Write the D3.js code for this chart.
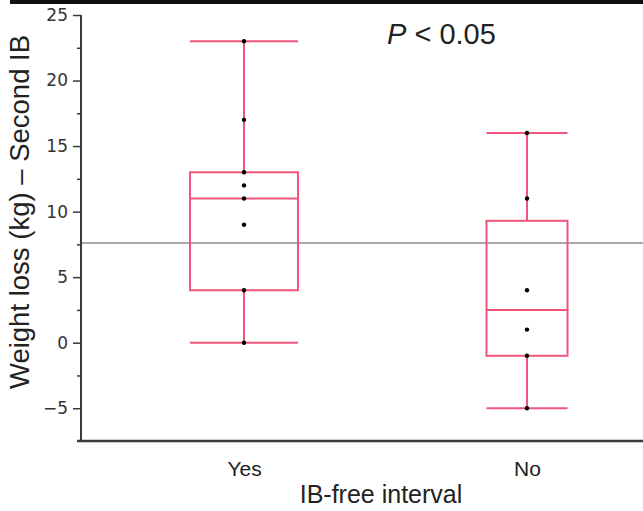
<!DOCTYPE html>
<html><head><meta charset="utf-8">
<script src="https://cdn.jsdelivr.net/npm/d3@7"></script>
<style>
html,body{margin:0;padding:0;background:#fff;}
svg{display:block;}
</style>
</head><body>
<svg id="chart" width="643" height="511"></svg>
<script>
// ---- data ----
const categories = ["Yes", "No"];
const yesPoints = [23, 17, 13, 12, 11, 9, 4, 0];
const noPoints = [16, 11, 4, 1, -1, -5];
const boxMin = [0, -5];
const boxQ1 = [4, -1];
const boxMedian = [11, 2.5];
const boxQ3 = [13, 9.3];
const boxMax = [23, 16];
const refLine = 7.6;
const yMajorTicks = [25, 20, 15, 10, 5, 0, -5];
const yMinorTicks = [22.5, 17.5, 12.5, 7.5, 2.5, -2.5];
const yTitle = "Weight loss (kg) \u2013 Second IB";
const xTitle = "IB-free interval";
const pLabel = ["P", " < 0.05"];

const points = [yesPoints, noPoints];

const svg = d3.select("#chart");
const pink = "#f2557c";
const axisCol = "#3a3a3a";

const y = d3.scaleLinear().domain([-7.5, 25]).range([441, 15]);
const x = d3.scalePoint().domain(categories).range([244, 527]);
const perPointWidth = 13.5;

// top black rule
svg.append("rect").attr("x", 10).attr("y", 0).attr("width", 633).attr("height", 4).attr("fill", "#111");

// reference line
svg.append("line")
  .attr("x1", 81).attr("x2", 643)
  .attr("y1", y(refLine)).attr("y2", y(refLine))
  .attr("stroke", "#a8a8a8").attr("stroke-width", 2);

// y axis (major)
const gy = svg.append("g").attr("transform", "translate(81,0)")
  .call(d3.axisLeft(y).tickValues(yMajorTicks).tickSize(8).tickPadding(5).tickFormat(d3.format("d")));
gy.select(".domain").remove();
gy.selectAll(".tick line").attr("stroke", axisCol).attr("stroke-width", 1.5);
gy.selectAll(".tick text").attr("font-family", "DejaVu Sans").attr("font-size", 17).attr("fill", "#333");

// minor ticks
const gm = svg.append("g").attr("transform", "translate(81,0)")
  .call(d3.axisLeft(y).tickValues(yMinorTicks).tickSize(4).tickFormat(""));
gm.select(".domain").remove();
gm.selectAll(".tick line").attr("stroke", axisCol).attr("stroke-width", 1.5);

// axis lines
svg.append("line").attr("x1", 81).attr("x2", 81).attr("y1", y(25)).attr("y2", y(-7.5))
  .attr("stroke", axisCol).attr("stroke-width", 2);

// x axis
const gx = svg.append("g").attr("transform", "translate(0,441)")
  .call(d3.axisBottom(x).tickSize(0).tickPadding(20));
gx.select(".domain").remove();
gx.selectAll(".tick text").attr("font-family", "Liberation Sans, Arial, sans-serif").attr("font-size", 21).attr("fill", "#222");
svg.append("line").attr("x1", 77).attr("x2", 643).attr("y1", 441).attr("y2", 441)
  .attr("stroke", axisCol).attr("stroke-width", 2.5);

// boxes
const g = svg.append("g");
categories.forEach((c, i) => {
  const cx = x(c);
  const w = points[i].length * perPointWidth;
  const col = g.append("g").attr("stroke", pink).attr("stroke-width", 2).attr("fill", "none");
  col.append("line").attr("x1", cx).attr("x2", cx).attr("y1", y(boxMax[i])).attr("y2", y(boxQ3[i]));
  col.append("line").attr("x1", cx).attr("x2", cx).attr("y1", y(boxQ1[i])).attr("y2", y(boxMin[i]));
  col.append("line").attr("x1", cx - w / 2).attr("x2", cx + w / 2).attr("y1", y(boxMax[i])).attr("y2", y(boxMax[i]));
  col.append("line").attr("x1", cx - w / 2).attr("x2", cx + w / 2).attr("y1", y(boxMin[i])).attr("y2", y(boxMin[i]));
  col.append("rect").attr("x", cx - w / 2).attr("width", w)
    .attr("y", y(boxQ3[i])).attr("height", y(boxQ1[i]) - y(boxQ3[i]));
  col.append("line").attr("x1", cx - w / 2).attr("x2", cx + w / 2).attr("y1", y(boxMedian[i])).attr("y2", y(boxMedian[i]));
  g.selectAll(null).data(points[i]).enter().append("circle")
    .attr("cx", cx).attr("cy", d => y(d)).attr("r", 2.2).attr("fill", "#000");
});

// axis titles
svg.append("text").attr("transform", `translate(29,212) rotate(-90)`)
  .attr("text-anchor", "middle").attr("font-family", "Liberation Sans, Arial, sans-serif")
  .attr("font-size", 27.5).attr("fill", "#222").text(yTitle);
svg.append("text").attr("x", 381).attr("y", 503).attr("text-anchor", "middle")
  .attr("font-family", "Liberation Sans, Arial, sans-serif").attr("font-size", 25).attr("fill", "#222").text(xTitle);

// P annotation
const pt = svg.append("text").attr("x", 387).attr("y", 44)
  .attr("font-family", "Liberation Sans, Arial, sans-serif").attr("font-size", 29).attr("fill", "#222");
pt.append("tspan").attr("font-style", "italic").text(pLabel[0]);
pt.append("tspan").text(pLabel[1]);
</script>
</body></html>
